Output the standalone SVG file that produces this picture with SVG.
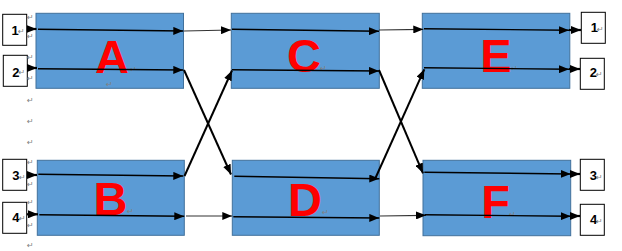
<svg xmlns="http://www.w3.org/2000/svg" width="622" height="251" viewBox="0 0 622 251">
  <defs>
    <marker id="arrow" markerUnits="userSpaceOnUse" markerWidth="10" markerHeight="8" refX="10" refY="4" orient="auto">
      <path d="M0,0 L10,4 L0,8 z" fill="#000"/>
    </marker>
    <style>
      .block { fill: #5B9BD5; stroke: #41719C; stroke-width: 1; }
      .port { fill: #fff; stroke: #000; stroke-width: 1; }
      .big { font-family: "Liberation Sans", Arial, sans-serif; font-weight: bold; font-size: 47px; fill: #FF0000; text-anchor: middle; }
      .num { font-family: "Liberation Sans", Arial, sans-serif; font-weight: bold; font-size: 13px; fill: #000; text-anchor: middle; }
      .pm { font-family: "DejaVu Sans", sans-serif; font-size: 8px; fill: #808080; }
      .wire { stroke: #000; stroke-width: 1.4; fill: none; marker-end: url(#arrow); }
      .link { stroke: #333; stroke-width: 1.2; fill: none; marker-end: url(#arrow); }
      .diag { stroke: #000; stroke-width: 2; fill: none; marker-end: url(#arrow); }
      .io { stroke: #000; stroke-width: 2.2; fill: none; marker-end: url(#arrow); }
    </style>
  </defs>

  <!-- input ports -->
  <g id="in1"><rect class="port" x="2.7" y="14.3" width="24" height="31"/><text class="num" x="15" y="35">1</text><text class="pm" x="18" y="34">↵</text></g>
  <g id="in2"><rect class="port" x="3.3" y="55.3" width="24" height="31"/><text class="num" x="15.8" y="77">2</text><text class="pm" x="18.5" y="75">↵</text></g>
  <g id="in3"><rect class="port" x="2.7" y="159.3" width="24" height="31"/><text class="num" x="15.8" y="180">3</text><text class="pm" x="19" y="180">↵</text></g>
  <g id="in4"><rect class="port" x="2.7" y="202.3" width="24" height="31"/><text class="num" x="15.8" y="222">4</text><text class="pm" x="19" y="221">↵</text></g>

  <!-- stage blocks -->
  <g id="A"><rect class="block" x="36" y="13.3" width="147.5" height="75"/><text class="big" x="112" y="73">A</text><text class="pm" x="106" y="87">↵</text><text class="pm" x="130" y="72">↵</text></g>
  <g id="B"><rect class="block" x="37.3" y="160.3" width="147" height="75"/><text class="big" x="110.5" y="214.5">B</text><text class="pm" x="127" y="214">↵</text></g>
  <g id="C"><rect class="block" x="231.3" y="13.3" width="148" height="75"/><text class="big" x="304" y="71.5">C</text><text class="pm" x="320" y="71">↵</text></g>
  <g id="D"><rect class="block" x="232.3" y="160.3" width="147" height="75"/><text class="big" x="305" y="216.3">D</text><text class="pm" x="322" y="215">↵</text></g>
  <g id="E"><rect class="block" x="422.3" y="13.3" width="147.5" height="75"/><text class="big" x="496" y="71.7">E</text><text class="pm" x="511" y="71">↵</text></g>
  <g id="F"><rect class="block" x="423" y="160.3" width="147.7" height="75.4"/><text class="big" x="495.5" y="218.3">F</text><text class="pm" x="509" y="216.5">↵</text></g>

  <!-- output ports -->
  <g id="out1"><rect class="port" x="581.3" y="12.3" width="24" height="31"/><text class="num" x="594.3" y="32">1</text><text class="pm" x="597" y="31.5">↵</text></g>
  <g id="out2"><rect class="port" x="580.3" y="58.3" width="24" height="31"/><text class="num" x="593.3" y="77.3">2</text><text class="pm" x="596" y="77">↵</text></g>
  <g id="out3"><rect class="port" x="580.3" y="159.3" width="24" height="31"/><text class="num" x="593.3" y="180">3</text><text class="pm" x="596" y="180">↵</text></g>
  <g id="out4"><rect class="port" x="580.3" y="204.3" width="24" height="31"/><text class="num" x="593.5" y="224">4</text><text class="pm" x="596" y="224">↵</text></g>

  <!-- paragraph marks down the left margin -->
  <g id="margin-marks" class="pm">
    <text x="27" y="19.5">↵</text>
    <text x="27" y="39">↵</text>
    <text x="27" y="59.5">↵</text>
    <text x="27" y="81">↵</text>
    <text x="27" y="103">↵</text>
    <text x="27" y="124">↵</text>
    <text x="27" y="144.5">↵</text>
    <text x="27" y="165">↵</text>
    <text x="27" y="187">↵</text>
    <text x="27" y="205">↵</text>
    <text x="27" y="228">↵</text>
    <text x="27" y="248">↵</text>
  </g>

  <!-- connectors -->
  <g id="connectors">
    <!-- inputs into stage 1 -->
    <line class="io" x1="27" y1="29" x2="36.5" y2="29"/>
    <line class="io" x1="28" y1="68" x2="37" y2="68"/>
    <line class="io" x1="27" y1="175" x2="37" y2="175"/>
    <line class="io" x1="27" y1="214.3" x2="38" y2="214.3"/>

    <!-- through-paths inside stage 1 -->
    <line class="wire" x1="38" y1="29.3" x2="183.3" y2="31"/>
    <line class="wire" x1="38" y1="68.7" x2="183.3" y2="70"/>
    <line class="wire" x1="38.3" y1="174.3" x2="183.3" y2="176"/>
    <line class="wire" x1="39.3" y1="214.7" x2="184.3" y2="216.3"/>

    <!-- stage 1 to stage 2 -->
    <line class="link" x1="184" y1="31" x2="231" y2="30"/>
    <line class="diag" x1="184" y1="70" x2="231" y2="174.5"/>
    <line class="diag" x1="184.5" y1="176" x2="232" y2="70.5"/>
    <line class="link" x1="186" y1="216" x2="232.3" y2="216"/>

    <!-- through-paths inside stage 2 -->
    <line class="wire" x1="232" y1="29.3" x2="379" y2="31.3"/>
    <line class="wire" x1="232" y1="69.7" x2="379" y2="71"/>
    <line class="wire" x1="234.3" y1="176.3" x2="379.3" y2="178.7"/>
    <line class="wire" x1="233.3" y1="216.7" x2="379.3" y2="218"/>

    <!-- stage 2 to stage 3 -->
    <line class="link" x1="379" y1="30" x2="423.3" y2="29.3"/>
    <line class="diag" x1="379" y1="70" x2="423" y2="173.3"/>
    <line class="diag" x1="375.5" y1="178" x2="424.3" y2="69.3"/>
    <line class="link" x1="380" y1="216" x2="426" y2="215.3"/>

    <!-- through-paths inside stage 3 -->
    <line class="wire" x1="424" y1="28.7" x2="569" y2="30.3"/>
    <line class="wire" x1="424" y1="67.7" x2="569" y2="69.3"/>
    <line class="wire" x1="424.3" y1="172.3" x2="570.7" y2="174"/>
    <line class="wire" x1="424.7" y1="214.7" x2="570.7" y2="216.3"/>

    <!-- outputs -->
    <line class="io" x1="569" y1="30" x2="581" y2="30"/>
    <line class="io" x1="569" y1="69" x2="580" y2="69"/>
    <line class="io" x1="570" y1="174" x2="580" y2="174"/>
    <line class="io" x1="570" y1="216" x2="580" y2="216"/>
  </g>
</svg>
